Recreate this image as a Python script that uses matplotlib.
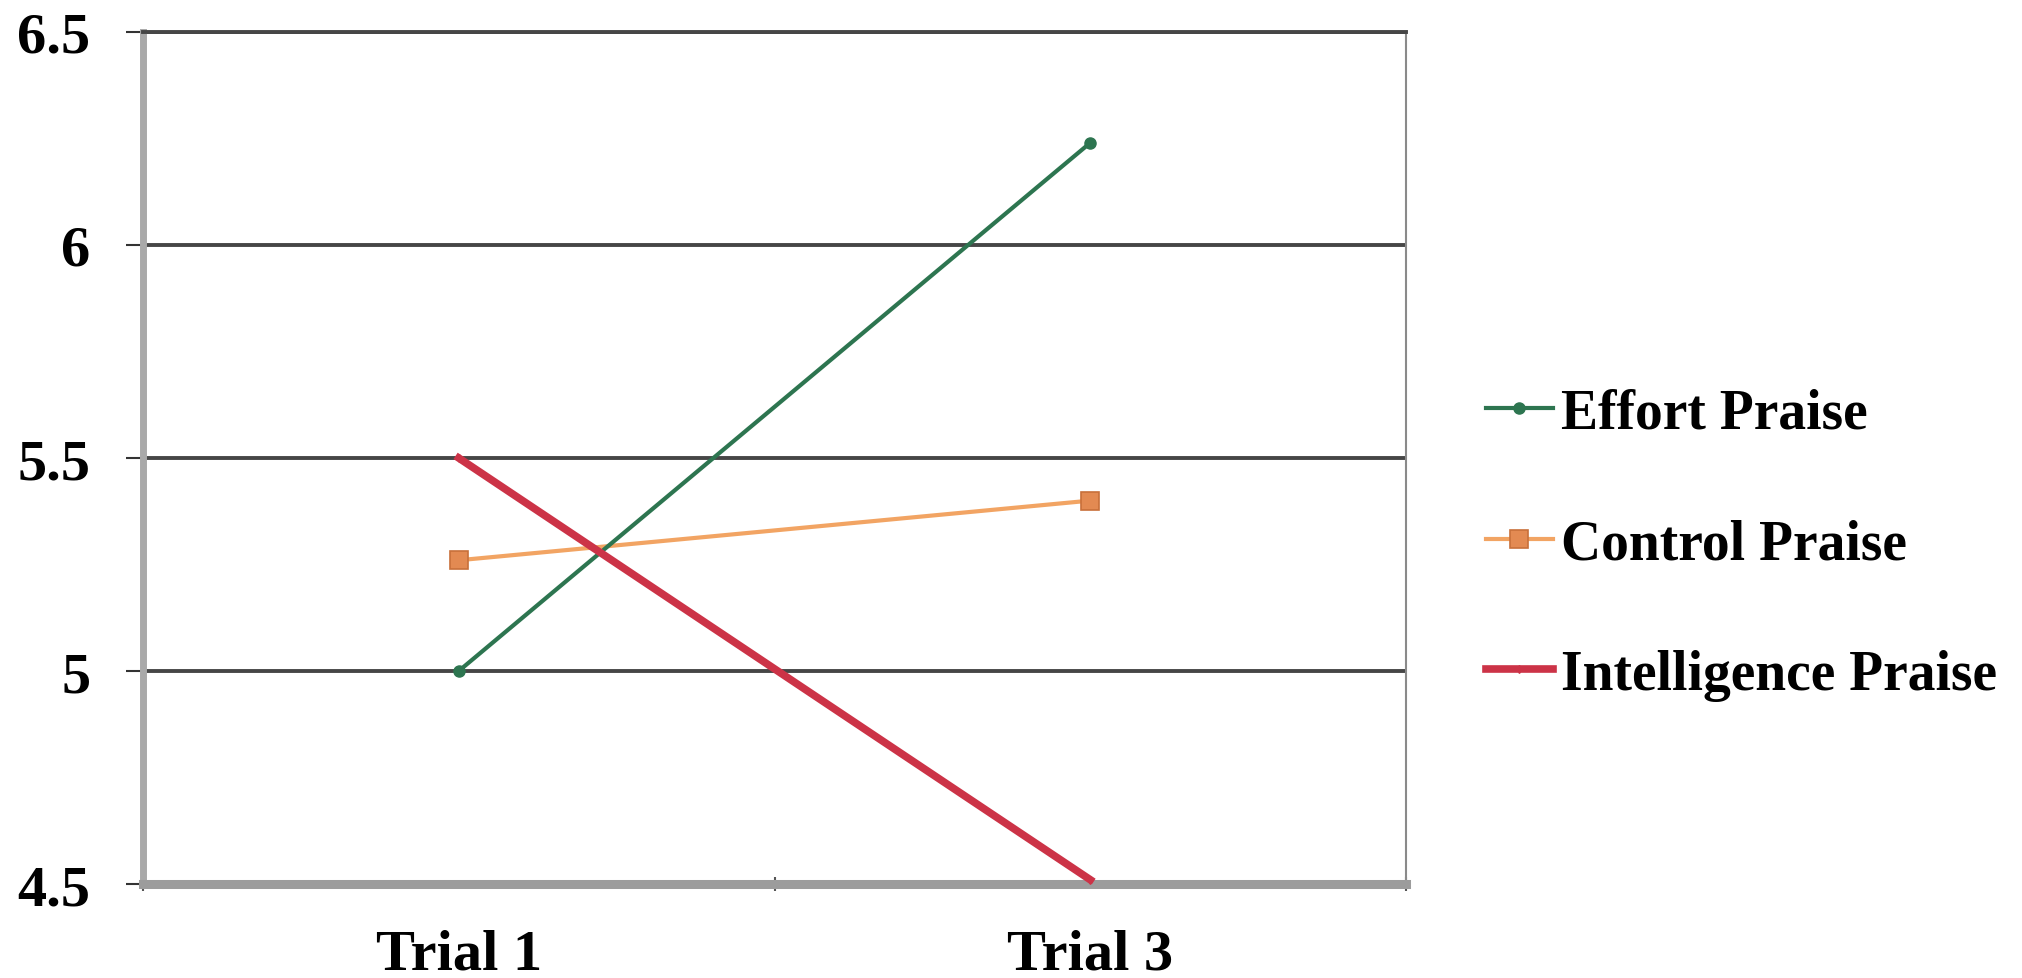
import matplotlib.pyplot as plt
from matplotlib.ticker import FixedLocator

# mean scores by praise condition, trial 1 vs trial 3
trials = ["Trial 1", "Trial 3"]
effort = [5.0, 6.24]
control = [5.26, 5.40]
intelligence = [5.5, 4.51]

plt.rcParams['font.family'] = ['Liberation Serif', 'DejaVu Serif']
plt.rcParams['font.weight'] = 'bold'

fig = plt.figure(figsize=(20.22, 9.79), dpi=100)
ax = fig.add_axes([0.0707, 0.096, 0.6247, 0.8703])

x = list(range(len(trials)))
ax.plot(x, effort, color='#2d7550', lw=3.0, marker='o', ms=8,
        label='Effort Praise', zorder=4)
ax.plot(x, control, color='#f2a463', lw=3.0, marker='s', ms=13,
        mfc='#e38a52', mec='#c8703a', mew=1.2, label='Control Praise', zorder=3)
ax.plot(x, intelligence, color='#cc3347', lw=5.5, marker='d', ms=4,
        label='Intelligence Praise', zorder=5)

ax.set_xlim(-0.5, 1.5)
ax.set_ylim(4.5, 6.5)
ax.set_yticks([4.5, 5, 5.5, 6, 6.5])
ax.set_yticklabels(['4.5', '5', '5.5', '6', '6.5'])
ax.set_xticks(x)
ax.set_xticklabels(trials)
ax.xaxis.set_minor_locator(FixedLocator([-0.5, 0.5, 1.5]))

ax.yaxis.grid(True, color='#464646', lw=2.8)
ax.set_axisbelow(True)

ax.tick_params(axis='y', length=12, width=1.5, color='#333333', pad=26,
               labelsize=42)
ax.tick_params(axis='x', which='major', length=0, pad=32, labelsize=42)
ax.tick_params(axis='x', which='minor', length=10, width=1.5,
               color='#555555', direction='inout')

ax.spines['left'].set_color('#a9a9a9')
ax.spines['left'].set_linewidth(5)
ax.spines['bottom'].set_color('#9c9c9c')
ax.spines['bottom'].set_linewidth(6.5)
ax.spines['right'].set_color('#8a8a8a')
ax.spines['right'].set_linewidth(1.5)
ax.spines['top'].set_color('#464646')
ax.spines['top'].set_linewidth(2.8)

fig.legend(loc='center left', bbox_to_anchor=(1486 / 2022, 1 - 545 / 979),
           frameon=False, fontsize=40, handlelength=1.2, handletextpad=0.15,
           labelspacing=1.42, borderpad=0, borderaxespad=0)

fig.savefig('out.png', dpi=100)
